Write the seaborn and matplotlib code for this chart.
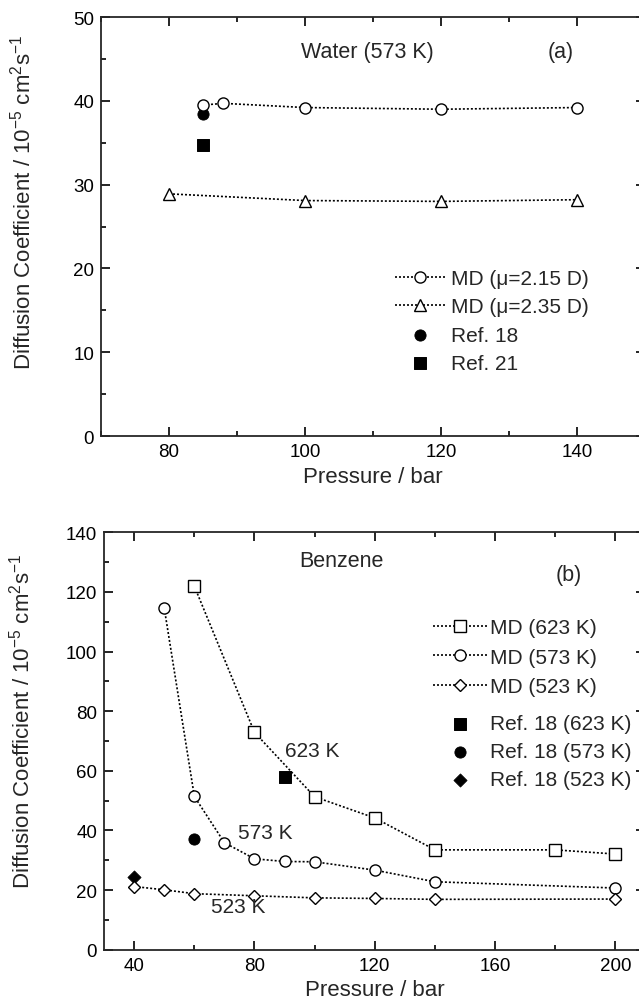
import matplotlib
matplotlib.use("Agg")
import matplotlib.pyplot as plt
import seaborn as sns
from matplotlib.ticker import MultipleLocator

# --- data (a) water, 573 K ---
water_p_215 = [85, 88, 100, 120, 140]
water_d_215 = [39.5, 39.7, 39.2, 39.0, 39.2]
water_p_235 = [80, 100, 120, 140]
water_d_235 = [28.9, 28.1, 28.0, 28.2]
water_ref18_p = [85]
water_ref18_d = [38.4]
water_ref21_p = [85]
water_ref21_d = [34.7]

# --- data (b) benzene ---
benz_p_623 = [60, 80, 100, 120, 140, 180, 200]
benz_d_623 = [121.9, 72.9, 51.3, 44.2, 33.5, 33.5, 32.1]
benz_p_573 = [50, 60, 70, 80, 90, 100, 120, 140, 200]
benz_d_573 = [114.5, 51.4, 35.9, 30.5, 29.6, 29.5, 26.7, 22.8, 20.7]
benz_p_523 = [40, 50, 60, 80, 100, 120, 140, 200]
benz_d_523 = [21.2, 20.1, 18.8, 18.1, 17.4, 17.2, 16.9, 17.0]
ref18_p = [90, 60, 40]
ref18_d = [58.1, 37.1, 24.5]

sns.set_theme(style="ticks")
plt.rcParams["font.family"] = ["Liberation Sans", "DejaVu Sans"]
plt.rcParams["mathtext.fontset"] = "custom"
plt.rcParams["mathtext.rm"] = "Liberation Sans"
plt.rcParams["mathtext.default"] = "regular"
plt.rcParams["axes.linewidth"] = 1.3

dots = (0, (1.2, 1.2))
line_kw = dict(color="black", linestyle=dots, linewidth=1.2, markersize=8,
               markerfacecolor="white", markeredgecolor="black",
               markeredgewidth=1.0, sort=False)
fs_txt = 15.5
fs_leg = 15

fig = plt.figure(figsize=(6.39, 10.03), dpi=100)
ax1 = fig.add_axes([0.158, 0.5643, 1.01 - 0.158, 0.982 - 0.5643])
ax2 = fig.add_axes([0.163, 0.0521, 1.01 - 0.163, 0.4683 - 0.0521])

# ---------- (a) ----------
sns.lineplot(x=water_p_215, y=water_d_215, marker="o", label="MD (\u03bc=2.15 D)", ax=ax1, **line_kw)
sns.lineplot(x=water_p_235, y=water_d_235, marker="^", label="MD (\u03bc=2.35 D)", ax=ax1, **line_kw)
sns.scatterplot(x=water_ref18_p, y=water_ref18_d, marker="o", s=65, color="black",
                edgecolor="black", label="Ref. 18", ax=ax1)
sns.scatterplot(x=water_ref21_p, y=water_ref21_d, marker="s", s=75, color="black",
                edgecolor="black", label="Ref. 21", ax=ax1)
ax1.set_xlim(70, 150)
ax1.set_ylim(0, 50)
ax1.xaxis.set_major_locator(MultipleLocator(20))
ax1.xaxis.set_minor_locator(MultipleLocator(10))
ax1.yaxis.set_major_locator(MultipleLocator(10))
ax1.yaxis.set_minor_locator(MultipleLocator(5))
ax1.text(109.1, 45.9, "Water (573 K)", ha="center", va="center", fontsize=fs_txt)
ax1.text(137.6, 45.9, "(a)", ha="center", va="center", fontsize=fs_txt)
h, l = ax1.get_legend_handles_labels()
ax1.legend(h, l, loc="upper left", bbox_to_anchor=(113.2, 19.9), bbox_transform=ax1.transData,
           frameon=False, fontsize=fs_leg, handlelength=2.4, handletextpad=0.3,
           labelspacing=0.44, borderpad=0, borderaxespad=0)

# ---------- (b) ----------
sns.lineplot(x=benz_p_623, y=benz_d_623, marker="s", label="MD (623 K)", ax=ax2, **line_kw)
sns.lineplot(x=benz_p_573, y=benz_d_573, marker="o", label="MD (573 K)", ax=ax2, **line_kw)
sns.lineplot(x=benz_p_523, y=benz_d_523, marker="D", label="MD (523 K)", ax=ax2,
             **{**line_kw, "markersize": 6.5})
sns.scatterplot(x=ref18_p[:1], y=ref18_d[:1], marker="s", s=75, color="black",
                edgecolor="black", label="Ref. 18 (623 K)", ax=ax2)
sns.scatterplot(x=ref18_p[1:2], y=ref18_d[1:2], marker="o", s=65, color="black",
                edgecolor="black", label="Ref. 18 (573 K)", ax=ax2)
sns.scatterplot(x=ref18_p[2:], y=ref18_d[2:], marker="D", s=45, color="black",
                edgecolor="black", label="Ref. 18 (523 K)", ax=ax2)
ax2.set_xlim(30, 210)
ax2.set_ylim(0, 140)
ax2.xaxis.set_major_locator(MultipleLocator(40))
ax2.xaxis.set_minor_locator(MultipleLocator(20))
ax2.yaxis.set_major_locator(MultipleLocator(20))
ax2.yaxis.set_minor_locator(MultipleLocator(10))
ax2.text(109, 130.5, "Benzene", ha="center", va="center", fontsize=fs_txt)
ax2.text(184.4, 126, "(b)", ha="center", va="center", fontsize=fs_txt)
ax2.text(90.2, 66.8, "623 K", ha="left", va="center", fontsize=fs_leg)
ax2.text(74.6, 39.4, "573 K", ha="left", va="center", fontsize=fs_leg)
ax2.text(65.4, 14.6, "523 K", ha="left", va="center", fontsize=fs_leg)
h, l = ax2.get_legend_handles_labels()
leg_md = ax2.legend(h[:3], l[:3], loc="upper left", bbox_to_anchor=(139.3, 111.2),
                    bbox_transform=ax2.transData, frameon=False, fontsize=fs_leg,
                    handlelength=2.6, handletextpad=0.15, labelspacing=0.5,
                    borderpad=0, borderaxespad=0)
ax2.add_artist(leg_md)
ax2.legend(h[3:], l[3:], loc="upper left", bbox_to_anchor=(139.3, 78.9),
           bbox_transform=ax2.transData, frameon=False, fontsize=fs_leg,
           handlelength=2.6, handletextpad=0.15, labelspacing=0.42,
           borderpad=0, borderaxespad=0)

ylab = r"Diffusion Coefficient / 10$^{-5}$ cm$^{2}$s$^{-1}$"
for ax in (ax1, ax2):
    ax.tick_params(which="both", direction="in", top=True, right=True,
                   labelsize=13.5, width=1.2, colors="black")
    ax.tick_params(which="major", length=6.5, pad=5)
    ax.tick_params(which="minor", length=3.6)
    ax.set_xlabel("Pressure / bar", fontsize=16, labelpad=4)
    ax.set_ylabel(ylab, fontsize=16)
ax1.yaxis.set_label_coords(-0.121, 0.56)
ax2.yaxis.set_label_coords(-0.128, 0.55)

fig.savefig("out.png", dpi=100)
